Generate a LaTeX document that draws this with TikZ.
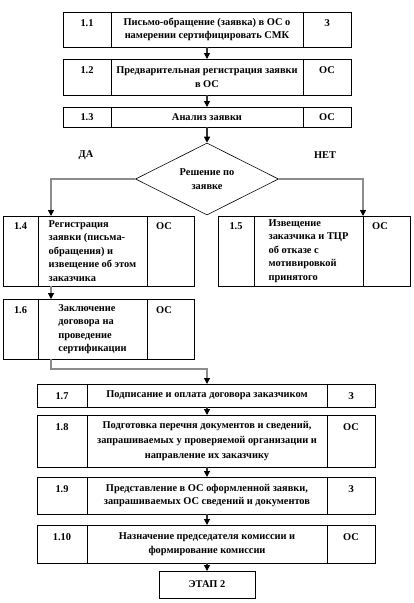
\documentclass[tikz,border=0pt]{standalone}
\usepackage{fontspec}
\setmainfont{Liberation Serif}
\usetikzlibrary{arrows.meta, positioning, shapes.geometric}

\begin{document}
\begin{tikzpicture}[
  x=1pt, y=-1pt,
  font=\bfseries\fontsize{10.4}{13.5}\selectfont,
  box/.style={draw, line width=0.8pt, inner sep=2pt, outer sep=0pt, align=center},
  tag/.style 2 args={box, label={[anchor=north, inner sep=0pt, yshift=-#2]north:#1}},
  tagl/.style 2 args={box, label={[anchor=north west, inner sep=0pt, xshift=9pt, yshift=-#2]north west:#1}},
  flow/.style={draw=gray!40!black, line width=1.2pt, -{Triangle[length=6pt, width=6pt, color=black]}},
  branch/.style={flow, draw=gray!90},
]
  \useasboundingbox (0,0) rectangle (414,603);

  % upper rows
  \node[box, minimum width=192pt, minimum height=35pt] (m11) at (207,29.5) {Письмо-обращение (заявка) в ОС о\\намерении сертифицировать СМК};
  \node[tag={1.1}{7.5pt}, minimum width=48pt, minimum height=35pt, left=0pt of m11] (n11) {};
  \node[tag={З}{7.5pt}, minimum width=48pt, minimum height=35pt, right=0pt of m11] (w11) {};

  \node[box, minimum width=192pt, minimum height=36pt] (m12) at (207,77) {Предварительная регистрация заявки\\в ОС};
  \node[tag={1.2}{7.5pt}, minimum width=48pt, minimum height=36pt, left=0pt of m12] (n12) {};
  \node[tag={ОС}{7.5pt}, minimum width=48pt, minimum height=36pt, right=0pt of m12] (w12) {};

  \node[box, minimum width=192pt, minimum height=20pt] (m13) at (207,117) {Анализ заявки};
  \node[tag={1.3}{6.5pt}, minimum width=48pt, minimum height=20pt, left=0pt of m13] (n13) {};
  \node[tag={ОС}{6.5pt}, minimum width=48pt, minimum height=20pt, right=0pt of m13] (w13) {};

  % decision
  \node[draw, diamond, aspect=2, align=center, line width=0.6pt, inner sep=0pt,
        minimum width=143pt, minimum height=72pt] (dec) at (207,179) {Решение по\\[1pt]заявке};
  \node (yes) at (86,155) {ДА};
  \node (no) at (325,155) {НЕТ};

  % branches
  \node[box, align=left, minimum width=109pt, minimum height=70pt] (m14) at (92.5,251) {Регистрация\\заявки (письма-\\обращения) и\\извещение об этом\\заказчика};
  \node[tag={1.4}{6pt}, minimum width=35pt, minimum height=70pt, left=0pt of m14] (n14) {};
  \node[tagl={ОС}{6pt}, minimum width=47pt, minimum height=70pt, right=0pt of m14] (w14) {};

  \node[box, align=left, minimum width=109pt, minimum height=70pt] (m15) at (308.5,251) {Извещение\\заказчика и ТЦР\\об отказе с\\мотивировкой\\принятого};
  \node[tag={1.5}{6pt}, minimum width=36pt, minimum height=70pt, left=0pt of m15] (n15) {};
  \node[tagl={ОС}{6pt}, minimum width=47pt, minimum height=70pt, right=0pt of m15] (w15) {};

  \node[box, align=left, minimum width=109pt, minimum height=60pt] (m16) at (92.5,329) {Заключение\\договора на\\проведение\\сертификации};
  \node[tag={1.6}{7pt}, minimum width=35pt, minimum height=60pt, left=0pt of m16] (n16) {};
  \node[tagl={ОС}{7pt}, minimum width=47pt, minimum height=60pt, right=0pt of m16] (w16) {};

  % lower rows
  \node[box, minimum width=240pt, minimum height=23pt] (m17) at (207,395.5) {Подписание и оплата договора заказчиком};
  \node[tag={1.7}{8pt}, minimum width=50pt, minimum height=23pt, left=0pt of m17] (n17) {};
  \node[tag={З}{8pt}, minimum width=48pt, minimum height=23pt, right=0pt of m17] (w17) {};

  \node[box, minimum width=240pt, minimum height=52pt] (m18) at (207,441) {Подготовка перечня документов и сведений,\\[1.5pt]запрашиваемых у проверяемой организации и\\[1.5pt]направление их заказчику};
  \node[tag={1.8}{8pt}, minimum width=50pt, minimum height=52pt, left=0pt of m18] (n18) {};
  \node[tag={ОС}{8pt}, minimum width=48pt, minimum height=52pt, right=0pt of m18] (w18) {};

  \node[box, minimum width=240pt, minimum height=37pt] (m19) at (207,495.5) {Представление в ОС оформленной заявки,\\запрашиваемых ОС сведений и документов};
  \node[tag={1.9}{8pt}, minimum width=50pt, minimum height=37pt, left=0pt of m19] (n19) {};
  \node[tag={З}{8pt}, minimum width=48pt, minimum height=37pt, right=0pt of m19] (w19) {};

  \node[box, minimum width=240pt, minimum height=38pt] (m110) at (207,544) {Назначение председателя комиссии и\\формирование комиссии};
  \node[tag={1.10}{8.5pt}, minimum width=50pt, minimum height=38pt, left=0pt of m110] (n110) {};
  \node[tag={ОС}{8.5pt}, minimum width=48pt, minimum height=38pt, right=0pt of m110] (w110) {};

  \node[box, minimum width=96pt, minimum height=27pt] (stage2) at (207,584.5) {ЭТАП 2};

  % connectors
  \draw[flow] (m11) -- (m12);
  \draw[flow] (m12) -- (m13);
  \draw[flow] (m13) -- (dec);
  \draw[branch] (dec.west) -| ([xshift=13pt]m14.north west);
  \draw[branch] (dec.east) -| (m15.north east);
  \draw[branch] ([xshift=13pt]m14.south west) -- ([xshift=13pt]m16.north west);
  \draw[branch] ([xshift=13pt]m16.south west) -- ++(0,10) -| (m17);
  \draw[flow] (m17) -- (m18);
  \draw[flow] (m18) -- (m19);
  \draw[flow] (m19) -- (m110);
  \draw[flow] (m110) -- (stage2);
\end{tikzpicture}
\end{document}
